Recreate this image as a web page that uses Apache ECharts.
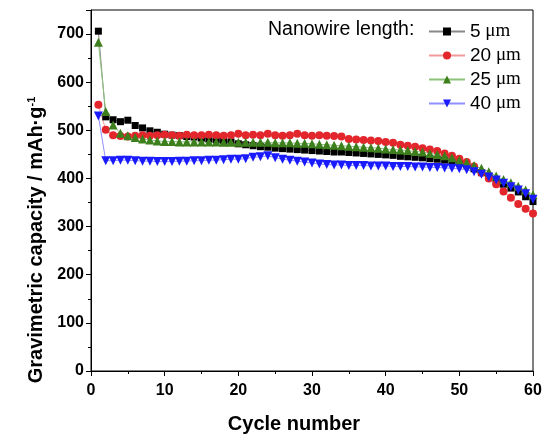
<!DOCTYPE html>
<html><head><meta charset="utf-8">
<script src="https://cdn.jsdelivr.net/npm/echarts@6/dist/echarts.min.js"></script>
<style>html,body{margin:0;padding:0;background:#fff}#c{width:548px;height:439px}</style>
</head><body><div id="c"></div>
<script>
const cycles = Array.from({length:60},(_,i)=>i+1);
const s5  = [706,528,522,518,521,510,505,499,496,492,490,489,487,486,484,482,480,478,476,472,470,468,466,465,463,462,461,460,459,458,457,456,455,455,454,453,452,451,450,449,448,446,445,444,443,441,440,438,436,432,428,420,412,404,396,388,380,372,362,352];
const s20 = [553,501,490,488,487,489,490,489,490,491,490,489,491,490,490,491,490,489,490,493,490,491,490,493,490,489,490,493,490,489,490,489,488,487,482,481,480,479,478,476,474,470,468,466,463,460,457,452,447,441,434,425,412,400,388,373,360,347,337,327];
const s25 = [683,539,511,494,489,485,482,480,478,477,477,476,476,476,476,476,476,475,475,475,475,475,475,475,474,474,474,473,473,472,471,470,469,468,467,466,465,464,463,461,460,459,458,456,455,452,450,447,443,438,433,427,421,414,405,398,391,384,376,366];
const s40 = [530,437,437,438,438,437,436,436,435,435,435,436,436,437,437,438,438,439,440,440,441,444,445,447,443,440,438,436,434,432,430,429,428,428,427,427,427,426,426,426,425,425,425,424,424,423,423,422,421,420,418,414,409,403,397,390,383,376,368,357];
const names = ['5 μm','20 μm','25 μm','40 μm'];
const xTicks = {min:0,max:60,step:10};
const yTicks = {min:0,max:750,step:100};

const FF = '"Liberation Sans", Arial, sans-serif';
const SERIF = '"Liberation Serif", "Times New Roman", serif';
function pairs(arr){return cycles.map((c,i)=>[c,arr[i]]);}
function mk(name,data,color,lineColor,symbol,size,rot){
  return {name,type:'line',data:pairs(data),symbol,symbolSize:size,symbolRotate:rot||0,
    itemStyle:{color:color},lineStyle:{color:lineColor,width:1},z:2};
}
const chart = echarts.init(document.getElementById('c'),null,{renderer:'canvas'});
chart.setOption({
  animation:false,
  grid:{left:91,right:15,top:10,bottom:66,show:true,borderColor:'#000',borderWidth:1,backgroundColor:'transparent'},
  xAxis:{type:'value',min:xTicks.min,max:xTicks.max,interval:xTicks.step,
    name:'Cycle number',nameLocation:'middle',nameGap:43,
    nameTextStyle:{fontFamily:FF,fontSize:20,fontWeight:'bold',color:'#000',padding:[0,36,0,0]},
    axisLine:{show:true,lineStyle:{color:'#000',width:1}},
    axisTick:{show:true,inside:false,length:5,lineStyle:{color:'#000'}},
    minorTick:{show:true,splitNumber:2,length:3,lineStyle:{color:'#000'}},
    splitLine:{show:false},
    axisLabel:{fontFamily:FF,fontSize:16,fontWeight:'bold',color:'#000',margin:12}},
  yAxis:{type:'value',min:yTicks.min,max:yTicks.max,interval:yTicks.step,
    axisLine:{show:true,lineStyle:{color:'#000',width:1}},
    axisTick:{show:true,inside:false,length:5,lineStyle:{color:'#000'}},
    minorTick:{show:true,splitNumber:2,length:3,lineStyle:{color:'#000'}},
    splitLine:{show:false},
    axisLabel:{fontFamily:FF,fontSize:16,fontWeight:'bold',color:'#000',margin:7,
      formatter:v=>(v%100===0?String(v):'')}},
  legend:{orient:'vertical',left:423,top:17,itemWidth:36,itemHeight:10,itemGap:5,
    data:names,
    textStyle:{fontFamily:SERIF,fontSize:19,color:'#000',
      rich:{n:{fontFamily:FF,fontSize:19,color:'#000'},u:{fontFamily:SERIF,fontSize:19,color:'#000'}}},
    formatter:n=>{const p=n.split(' ');return '{n|'+p[0]+'} {u|'+p[1]+'}';}
  },
  graphic:[
    {type:'text',left:268,top:20,style:{text:'Nanowire length:',font:'19.5px "Liberation Sans", Arial, sans-serif',fill:'#000'}},
    {type:'text',x:36,y:240,rotation:Math.PI/2,
      style:{text:'{a|Gravimetric capacity / mAh·g}{s|-1}',align:'center',verticalAlign:'middle',
        rich:{a:{fontFamily:FF,fontSize:20,fontWeight:'bold',fill:'#000'},
              s:{fontFamily:FF,fontSize:11,fontWeight:'bold',fill:'#000',verticalAlign:'top'}}}}
  ],
  series:[
    mk(names[0],s5,'#000000','#888888','rect',7),
    mk(names[1],s20,'#e3262b','#f29a9a','circle',8),
    mk(names[2],s25,'#3d7f1c','#8cc27a','triangle',9),
    mk(names[3],s40,'#1a1aff','#8f8fff','triangle',9,180)
  ]
});
</script></body></html>
